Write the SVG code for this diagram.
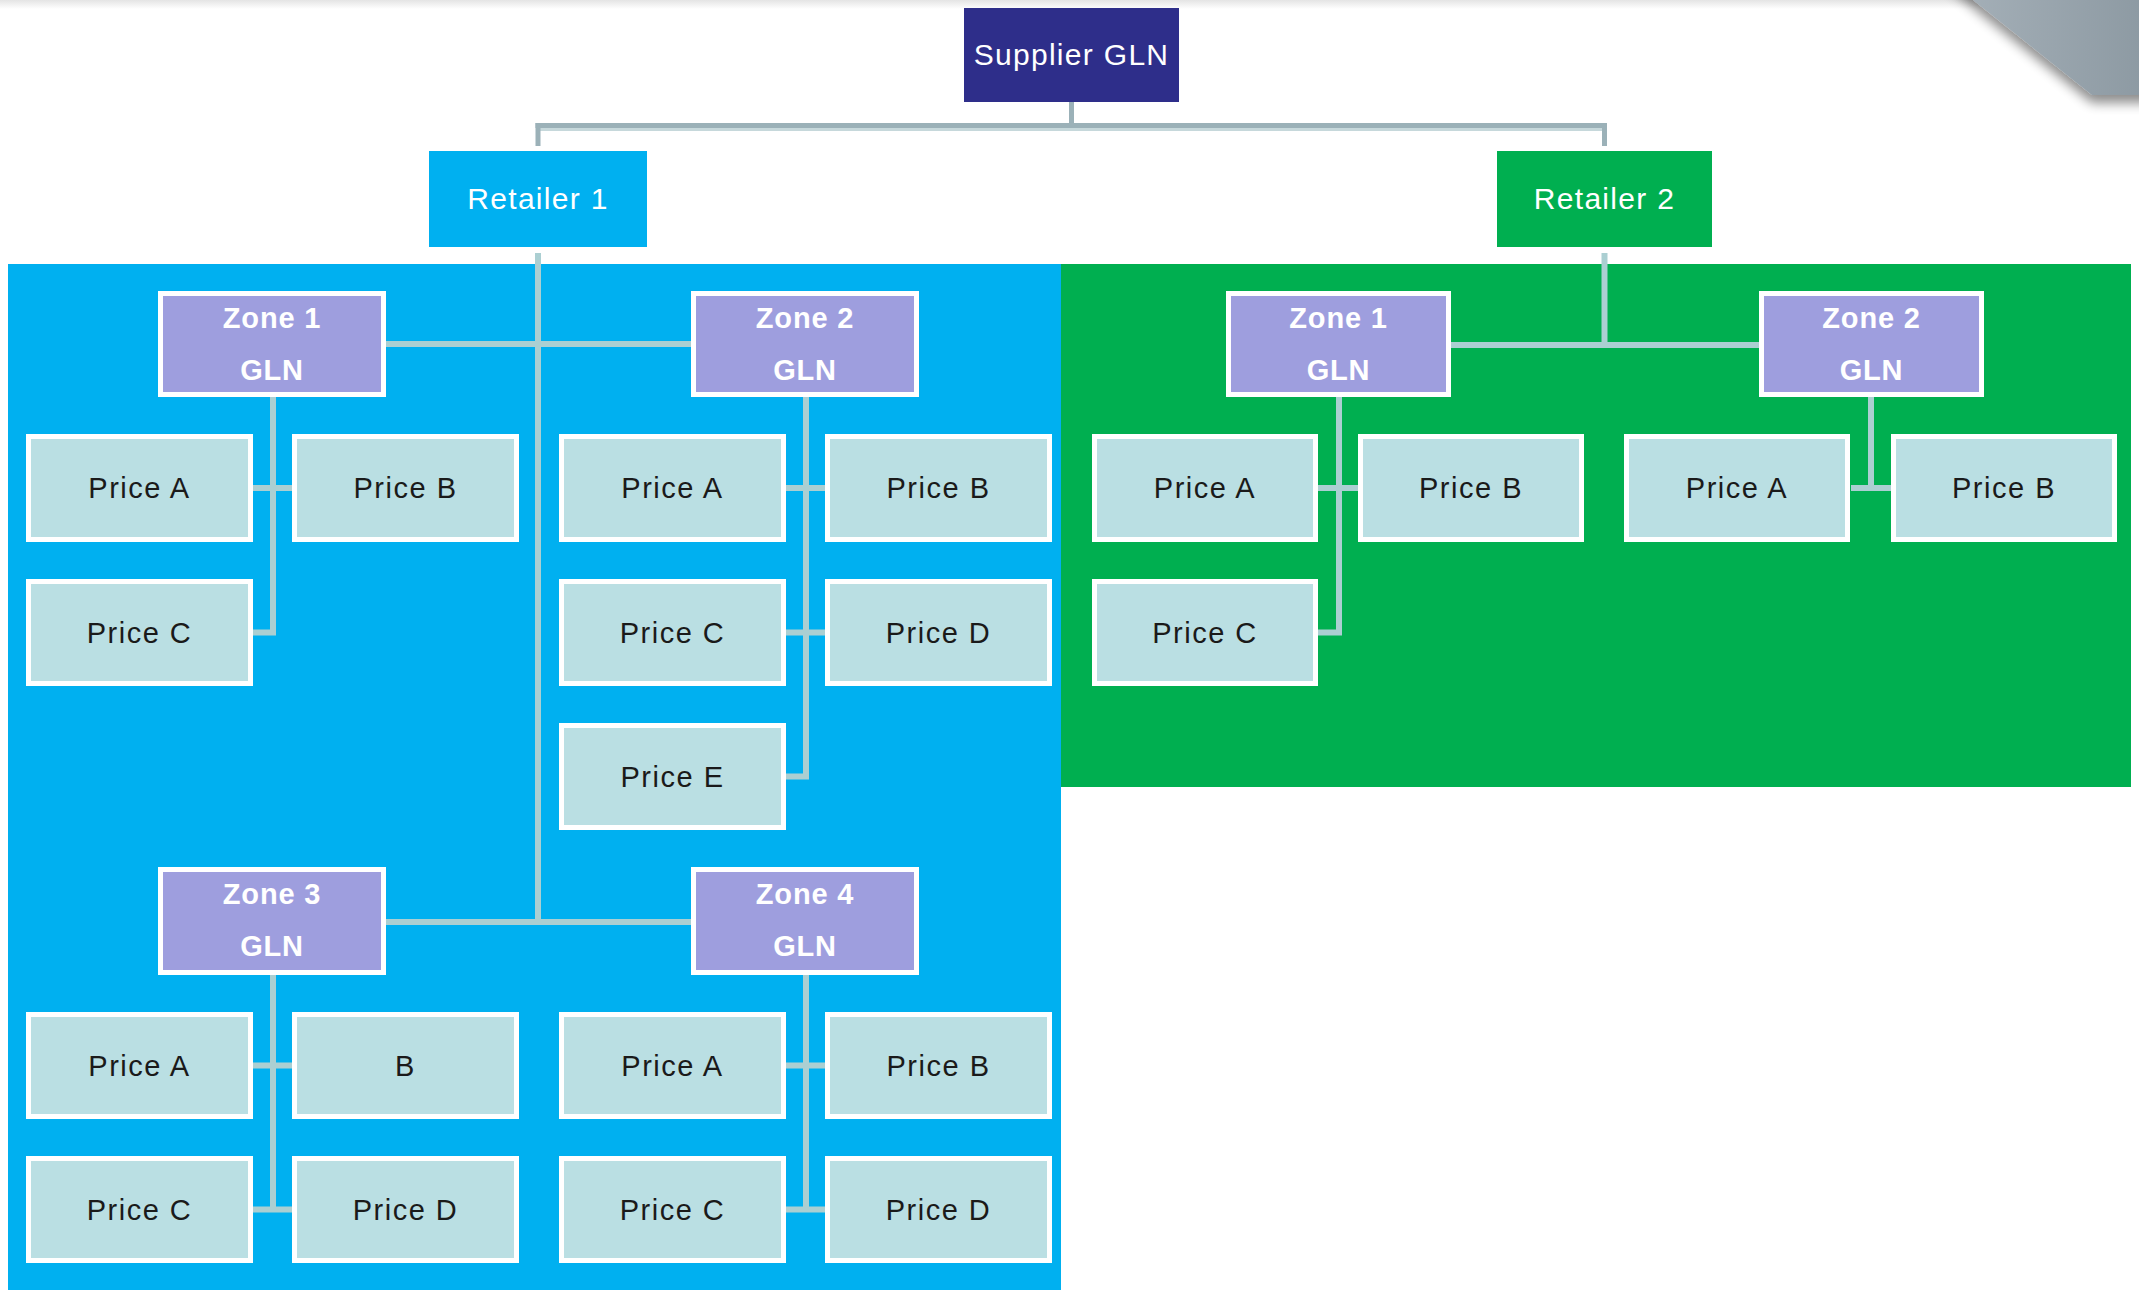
<svg xmlns="http://www.w3.org/2000/svg" width="2139" height="1290" viewBox="0 0 2139 1290">
<defs>
<linearGradient id="topShade" x1="0" y1="0" x2="0" y2="1"><stop offset="0" stop-color="#e4e4e4"/><stop offset="1" stop-color="#ffffff"/></linearGradient>
<linearGradient id="corner" x1="0" y1="0" x2="1" y2="0"><stop offset="0" stop-color="#a6b1b9"/><stop offset="1" stop-color="#8b98a1"/></linearGradient>
<filter id="shadow" x="-20%" y="-20%" width="140%" height="160%"><feGaussianBlur in="SourceAlpha" stdDeviation="6"/><feOffset dx="0" dy="8"/><feComponentTransfer><feFuncA type="linear" slope="0.45"/></feComponentTransfer><feMerge><feMergeNode/><feMergeNode in="SourceGraphic"/></feMerge></filter>
<style>
text{font-family:"Liberation Sans",Arial,sans-serif;text-anchor:middle}
.top text{fill:#ffffff;font-size:30px;letter-spacing:1.3px}
.zone rect{fill:#9e9ede;stroke:#ffffff;stroke-width:5}
.zone text{fill:#ffffff;font-size:29px;font-weight:bold;letter-spacing:0.8px}
.price rect{fill:#badfe3;stroke:#ffffff;stroke-width:5}
.price text{fill:#1a1a1a;font-size:29px;letter-spacing:1.5px}
.dark{fill:none;stroke:#9bb1b8;stroke-width:5}
.lite{fill:none;stroke:#c6d8db;stroke-width:3}
.conn{fill:none;stroke:#abcfd2;stroke-width:6;stroke-linejoin:miter}
</style>
</defs>
<rect x="0" y="0" width="2139" height="1290" fill="#ffffff"/>
<rect x="0" y="0" width="2139" height="9" fill="url(#topShade)"/>
<polygon points="1948,-20 2160,-20 2160,95 2092,95" fill="url(#corner)" filter="url(#shadow)"/>
<rect id="region-retailer1" x="8" y="264" width="1053" height="1026" fill="#00b0f0"/>
<rect id="region-retailer2" x="1061" y="264" width="1070" height="523" fill="#00af50"/>

<g id="connectors">
<line class="dark" x1="1071.5" y1="102" x2="1071.5" y2="126"/>
<line class="dark" x1="535.5" y1="125.5" x2="1607" y2="125.5"/>
<line class="lite" x1="538" y1="129.5" x2="1604.5" y2="129.5"/>
<line class="dark" x1="538" y1="123" x2="538" y2="146"/>
<line class="dark" x1="1604.5" y1="123" x2="1604.5" y2="146"/>
<line class="conn" x1="538" y1="253" x2="538" y2="922"/>
<line class="conn" x1="1604.5" y1="253" x2="1604.5" y2="345"/>
<line class="conn" x1="386" y1="344" x2="691" y2="344"/>
<line class="conn" x1="1451" y1="345" x2="1759" y2="345"/>
<line class="conn" x1="386" y1="922" x2="691" y2="922"/>
<path class="conn" d="M273 397 V632.5 H253 M253 488 H292"/>
<path class="conn" d="M806 397 V776.5 H786 M786 488 H825 M786 632.5 H825"/>
<path class="conn" d="M1339 397 V632.5 H1318 M1318 488 H1358"/>
<path class="conn" d="M1871 397 V488 M1851 488 H1891"/>
<path class="conn" d="M273 975 V1209.5 M253 1065.5 H292 M253 1209.5 H292"/>
<path class="conn" d="M806 975 V1209.5 M786 1065.5 H825 M786 1209.5 H825"/>
</g>

<g id="supplier" class="top"><rect x="964" y="8" width="215" height="94" fill="#2e2e8a"/><text x="1071.5" y="65">Supplier GLN</text></g>
<g id="retailer1" class="top"><rect x="429" y="151" width="218" height="96" fill="#00b0f0"/><text x="538" y="209">Retailer 1</text></g>
<g id="retailer2" class="top"><rect x="1497" y="151" width="215" height="96" fill="#00af50"/><text x="1604.5" y="209">Retailer 2</text></g>

<g id="r1-zone1" class="zone"><rect x="160.5" y="293.5" width="223" height="101"/><text x="272" y="328">Zone 1</text><text x="272" y="380">GLN</text></g>
<g id="r1-zone2" class="zone"><rect x="693.5" y="293.5" width="223" height="101"/><text x="805" y="328">Zone 2</text><text x="805" y="380">GLN</text></g>
<g id="r2-zone1" class="zone"><rect x="1228.5" y="293.5" width="220" height="101"/><text x="1338.5" y="328">Zone 1</text><text x="1338.5" y="380">GLN</text></g>
<g id="r2-zone2" class="zone"><rect x="1761.5" y="293.5" width="220" height="101"/><text x="1871.5" y="328">Zone 2</text><text x="1871.5" y="380">GLN</text></g>
<g id="r1-zone3" class="zone"><rect x="160.5" y="869.5" width="223" height="103"/><text x="272" y="904">Zone 3</text><text x="272" y="956">GLN</text></g>
<g id="r1-zone4" class="zone"><rect x="693.5" y="869.5" width="223" height="103"/><text x="805" y="904">Zone 4</text><text x="805" y="956">GLN</text></g>

<g id="r1z1-priceA" class="price"><rect x="28.5" y="436.5" width="222" height="103"/><text x="139.5" y="498">Price A</text></g>
<g id="r1z1-priceB" class="price"><rect x="294.5" y="436.5" width="222" height="103"/><text x="405.5" y="498">Price B</text></g>
<g id="r1z1-priceC" class="price"><rect x="28.5" y="581.5" width="222" height="102"/><text x="139.5" y="642.5">Price C</text></g>
<g id="r1z2-priceA" class="price"><rect x="561.5" y="436.5" width="222" height="103"/><text x="672.5" y="498">Price A</text></g>
<g id="r1z2-priceB" class="price"><rect x="827.5" y="436.5" width="222" height="103"/><text x="938.5" y="498">Price B</text></g>
<g id="r1z2-priceC" class="price"><rect x="561.5" y="581.5" width="222" height="102"/><text x="672.5" y="642.5">Price C</text></g>
<g id="r1z2-priceD" class="price"><rect x="827.5" y="581.5" width="222" height="102"/><text x="938.5" y="642.5">Price D</text></g>
<g id="r1z2-priceE" class="price"><rect x="561.5" y="725.5" width="222" height="102"/><text x="672.5" y="786.5">Price E</text></g>

<g id="r2z1-priceA" class="price"><rect x="1094.5" y="436.5" width="221" height="103"/><text x="1205" y="498">Price A</text></g>
<g id="r2z1-priceB" class="price"><rect x="1360.5" y="436.5" width="221" height="103"/><text x="1471" y="498">Price B</text></g>
<g id="r2z1-priceC" class="price"><rect x="1094.5" y="581.5" width="221" height="102"/><text x="1205" y="642.5">Price C</text></g>
<g id="r2z2-priceA" class="price"><rect x="1626.5" y="436.5" width="221" height="103"/><text x="1737" y="498">Price A</text></g>
<g id="r2z2-priceB" class="price"><rect x="1893.5" y="436.5" width="221" height="103"/><text x="2004" y="498">Price B</text></g>

<g id="r1z3-priceA" class="price"><rect x="28.5" y="1014.5" width="222" height="102"/><text x="139.5" y="1075.5">Price A</text></g>
<g id="r1z3-B" class="price"><rect x="294.5" y="1014.5" width="222" height="102"/><text x="405.5" y="1075.5">B</text></g>
<g id="r1z3-priceC" class="price"><rect x="28.5" y="1158.5" width="222" height="102"/><text x="139.5" y="1219.5">Price C</text></g>
<g id="r1z3-priceD" class="price"><rect x="294.5" y="1158.5" width="222" height="102"/><text x="405.5" y="1219.5">Price D</text></g>
<g id="r1z4-priceA" class="price"><rect x="561.5" y="1014.5" width="222" height="102"/><text x="672.5" y="1075.5">Price A</text></g>
<g id="r1z4-priceB" class="price"><rect x="827.5" y="1014.5" width="222" height="102"/><text x="938.5" y="1075.5">Price B</text></g>
<g id="r1z4-priceC" class="price"><rect x="561.5" y="1158.5" width="222" height="102"/><text x="672.5" y="1219.5">Price C</text></g>
<g id="r1z4-priceD" class="price"><rect x="827.5" y="1158.5" width="222" height="102"/><text x="938.5" y="1219.5">Price D</text></g>
</svg>
